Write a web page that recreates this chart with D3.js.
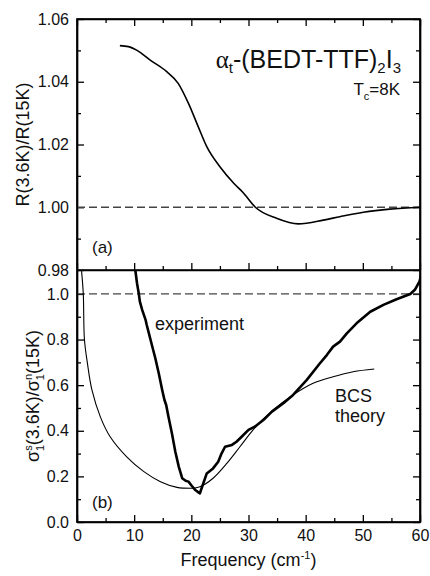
<!DOCTYPE html>
<html>
<head>
<meta charset="utf-8">
<script src="https://cdn.jsdelivr.net/npm/d3@7"></script>
<style>
  body { margin: 0; background: #fff; }
  text { font-family: "Liberation Sans", Arial, sans-serif; fill: #111; }
  .domain { stroke: #000; stroke-width: 1.7; }
  .tick line { stroke: #000; stroke-width: 1.3; }
</style>
</head>
<body>
<div id="chart"></div>
<script>
// panel (a): reflectance ratio
var topFreq  = [7.5, 9.0, 10.5, 12.8, 15.7, 17.7, 19.5, 21.2, 22.7, 25.0, 27.5, 29.0, 31.2, 34.9, 38.7, 43.1, 46.0, 50.1, 54.7, 60.0];
var topRatio = [1.0515, 1.0512, 1.0500, 1.0469, 1.0432, 1.0395, 1.0331, 1.0257, 1.0193, 1.0129, 1.0075, 1.0048, 1.0000, 0.9965, 0.9947, 0.9959, 0.9970, 0.9984, 0.9994, 1.0000];

// panel (b): conductivity ratio, experiment
var expFreq  = [10.2, 10.5, 10.8, 11.0, 11.4, 12.0, 12.2, 12.5, 13.1, 13.7, 14.3, 14.9, 15.3, 15.6, 16.0, 16.6, 17.2, 17.8, 18.4, 19.0, 19.5, 20.1, 20.7, 21.3, 21.5, 22.1, 22.7, 23.8, 24.7, 25.3, 25.9, 27.1, 27.9, 28.8, 30.0, 31.1, 32.6, 34.1, 36.1, 37.8, 40.2, 42.5, 43.7, 44.8, 46.0, 47.2, 48.9, 51.3, 53.6, 55.9, 58.3, 59.1, 59.9, 60.2];
var expSigma = [1.105, 1.047, 1.003, 0.966, 0.930, 0.886, 0.864, 0.835, 0.776, 0.718, 0.652, 0.579, 0.535, 0.513, 0.462, 0.389, 0.308, 0.243, 0.192, 0.181, 0.177, 0.158, 0.140, 0.129, 0.126, 0.170, 0.213, 0.235, 0.264, 0.301, 0.330, 0.338, 0.352, 0.374, 0.404, 0.418, 0.447, 0.484, 0.521, 0.557, 0.623, 0.696, 0.732, 0.769, 0.791, 0.827, 0.871, 0.922, 0.952, 0.977, 1.000, 1.018, 1.054, 1.08];

// panel (b): BCS theory
var bcsFreq  = [0.8, 1.1, 1.3, 1.8, 2.6, 4.1, 5.8, 8.7, 11.7, 14.6, 17.5, 20.4, 21.5, 23.8, 26.2, 28.5, 30.8, 34.3, 37.8, 41.3, 44.8, 48.3, 52.0];
var bcsSigma = [1.10, 1.00, 0.80, 0.70, 0.58, 0.46, 0.374, 0.286, 0.221, 0.177, 0.152, 0.148, 0.155, 0.192, 0.257, 0.330, 0.404, 0.491, 0.557, 0.608, 0.637, 0.659, 0.671];

var freqTicks  = [0, 10, 20, 30, 40, 50, 60];
var ratioTicks = [0.98, 1.00, 1.02, 1.04, 1.06];
var sigmaTicks = [0.0, 0.2, 0.4, 0.6, 0.8, 1.0];

var width = 430, height = 576;
// plot edges (window.top is reserved, so p-prefixed)
var pLeft = 77, pRight = 420, pTop = 19, pMid = 270, pBottom = 522;

var svg = d3.select("#chart").append("svg")
    .attr("width", width)
    .attr("height", height);

var x = d3.scaleLinear().domain([0, 60]).range([pLeft, pRight]);
var yTop = d3.scaleLinear().domain([0.98, 1.06]).range([pMid, pTop]);
var yBot = d3.scaleLinear().domain([0, 1.105]).range([pBottom, pMid]);

var freqMinor  = d3.range(5, 60, 10);
var ratioMinor = [0.99, 1.01, 1.03, 1.05];
var sigmaMinor = [0.1, 0.3, 0.5, 0.7, 0.9];

var defs = svg.append("defs");
defs.append("clipPath").attr("id", "clipBot")
  .append("rect").attr("x", pLeft).attr("y", pMid).attr("width", pRight - pLeft).attr("height", pBottom - pMid);
defs.append("clipPath").attr("id", "clipTop")
  .append("rect").attr("x", pLeft).attr("y", pTop).attr("width", pRight - pLeft).attr("height", pMid - pTop);

// inward ticks: negative tick size, labels sit at tickPadding
function addAxis(axisFn, scale, major, minor, tx, ty, labels, fmt) {
  var g = svg.append("g").attr("transform", "translate(" + tx + "," + ty + ")");
  g.call(axisFn(scale).tickValues(minor).tickSize(-4).tickSizeOuter(0).tickFormat(""));
  g.select(".domain").remove();
  var a = axisFn(scale).tickValues(major).tickSize(-7).tickSizeOuter(0).tickPadding(8)
      .tickFormat(labels ? fmt : "");
  var g2 = svg.append("g").attr("transform", "translate(" + tx + "," + ty + ")").call(a);
  g2.selectAll("text").style("font-size", "16px").style("font-family", "'Liberation Sans', Arial, sans-serif").attr("fill", "#111");
  return g2;
}

// panel (a) frame
addAxis(d3.axisLeft, yTop, ratioTicks, ratioMinor, pLeft, 0, true, d3.format(".2f"));
addAxis(d3.axisRight, yTop, ratioTicks, ratioMinor, pRight, 0, false);
addAxis(d3.axisTop, x, freqTicks, freqMinor, 0, pTop, false);
addAxis(d3.axisBottom, x, freqTicks, freqMinor, 0, pMid, false);

// panel (b) frame
addAxis(d3.axisLeft, yBot, sigmaTicks, sigmaMinor, pLeft, 0, true, d3.format(".1f"));
addAxis(d3.axisRight, yBot, sigmaTicks, sigmaMinor, pRight, 0, false);
addAxis(d3.axisBottom, x, freqTicks, freqMinor, 0, pBottom, true, d3.format("d"));

// reference lines at 1
svg.append("line")
  .attr("x1", pLeft).attr("x2", pRight).attr("y1", yTop(1)).attr("y2", yTop(1))
  .attr("stroke", "#444").attr("stroke-width", 1.3).attr("stroke-dasharray", "8,4");
svg.append("line")
  .attr("x1", pLeft).attr("x2", pRight).attr("y1", yBot(1)).attr("y2", yBot(1))
  .attr("stroke", "#444").attr("stroke-width", 1.3).attr("stroke-dasharray", "8,4");

var topLine = d3.line()
  .x(function(d, i) { return x(topFreq[i]); })
  .y(function(d) { return yTop(d); })
  .curve(d3.curveMonotoneX);

svg.append("path").datum(topRatio)
  .attr("clip-path", "url(#clipTop)")
  .attr("d", topLine)
  .attr("fill", "none").attr("stroke", "#000").attr("stroke-width", 1.6);

// BCS curve: steep left branch + flat right branch
svg.append("path").datum(bcsSigma.slice(0, 12))
  .attr("clip-path", "url(#clipBot)")
  .attr("d", d3.line()
    .x(function(d, i) { return x(bcsFreq[i]); })
    .y(function(d) { return yBot(d); })
    .curve(d3.curveCatmullRom))
  .attr("fill", "none").attr("stroke", "#000").attr("stroke-width", 1.1);
svg.append("path").datum(bcsSigma.slice(11))
  .attr("clip-path", "url(#clipBot)")
  .attr("d", d3.line()
    .x(function(d, i) { return x(bcsFreq[i + 11]); })
    .y(function(d) { return yBot(d); })
    .curve(d3.curveMonotoneX))
  .attr("fill", "none").attr("stroke", "#000").attr("stroke-width", 1.1);

var expLine = d3.line()
  .x(function(d, i) { return x(expFreq[i]); })
  .y(function(d) { return yBot(d); });

svg.append("path").datum(expSigma)
  .attr("clip-path", "url(#clipBot)")
  .attr("d", expLine)
  .attr("fill", "none").attr("stroke", "#000").attr("stroke-width", 2.6)
  .attr("stroke-linejoin", "round");

// redraw frame lines on top
svg.append("rect").attr("x", pLeft).attr("y", pTop).attr("width", pRight - pLeft).attr("height", pBottom - pTop)
  .attr("fill", "none").attr("stroke", "#000").attr("stroke-width", 1.7);
svg.append("line").attr("x1", pLeft).attr("x2", pRight).attr("y1", pMid).attr("y2", pMid)
  .attr("stroke", "#000").attr("stroke-width", 1.7);

// title
var title = svg.append("text").attr("x", 401).attr("y", 68).attr("text-anchor", "end").style("font-size", "25px");
title.append("tspan").text("α").style("font-family", "'Liberation Serif', serif");
title.append("tspan").text("t").style("font-size", "15px").attr("dy", 5);
title.append("tspan").text("-(BEDT-TTF)").attr("dy", -5);
title.append("tspan").text("2").style("font-size", "15px").attr("dy", 5);
title.append("tspan").text("I").attr("dy", -5);
title.append("tspan").text("3").style("font-size", "15px").attr("dy", 5);

var tc = svg.append("text").attr("x", 400).attr("y", 95).attr("text-anchor", "end").style("font-size", "17px");
tc.append("tspan").text("T");
tc.append("tspan").text("c").style("font-size", "11px").attr("dy", 5);
tc.append("tspan").text("=8K").attr("dy", -5);

svg.append("text").attr("x", 92).attr("y", 253).style("font-size", "17px").text("(a)");
svg.append("text").attr("x", 92).attr("y", 508).style("font-size", "17px").text("(b)");
svg.append("text").attr("x", 155).attr("y", 330).style("font-size", "18px").text("experiment");
svg.append("text").attr("x", 335).attr("y", 402).style("font-size", "18px").text("BCS");
svg.append("text").attr("x", 335).attr("y", 422).style("font-size", "18px").text("theory");

// axis titles
svg.append("text")
  .attr("transform", "translate(29," + (pTop + pMid) / 2 + ") rotate(-90)")
  .attr("text-anchor", "middle").style("font-size", "18px")
  .text("R(3.6K)/R(15K)");

var ylab = svg.append("text")
  .attr("transform", "translate(39,396) rotate(-90)")
  .attr("text-anchor", "middle").style("font-size", "18px");
ylab.append("tspan").text("σ");
ylab.append("tspan").text("1").style("font-size", "11px").attr("dy", 5);
ylab.append("tspan").text("s").style("font-size", "11px").attr("dx", -6).attr("dy", -12);
ylab.append("tspan").text("(3.6K)/σ").attr("dy", 7);
ylab.append("tspan").text("1").style("font-size", "11px").attr("dy", 5);
ylab.append("tspan").text("n").style("font-size", "11px").attr("dx", -6).attr("dy", -12);
ylab.append("tspan").text("(15K)").attr("dy", 7);

var xlab = svg.append("text")
  .attr("x", (pLeft + pRight) / 2).attr("y", 566)
  .attr("text-anchor", "middle").style("font-size", "18px");
xlab.append("tspan").text("Frequency (cm");
xlab.append("tspan").text("-1").style("font-size", "11px").attr("dy", -7);
xlab.append("tspan").text(")").attr("dy", 7);
</script>
</body>
</html>
